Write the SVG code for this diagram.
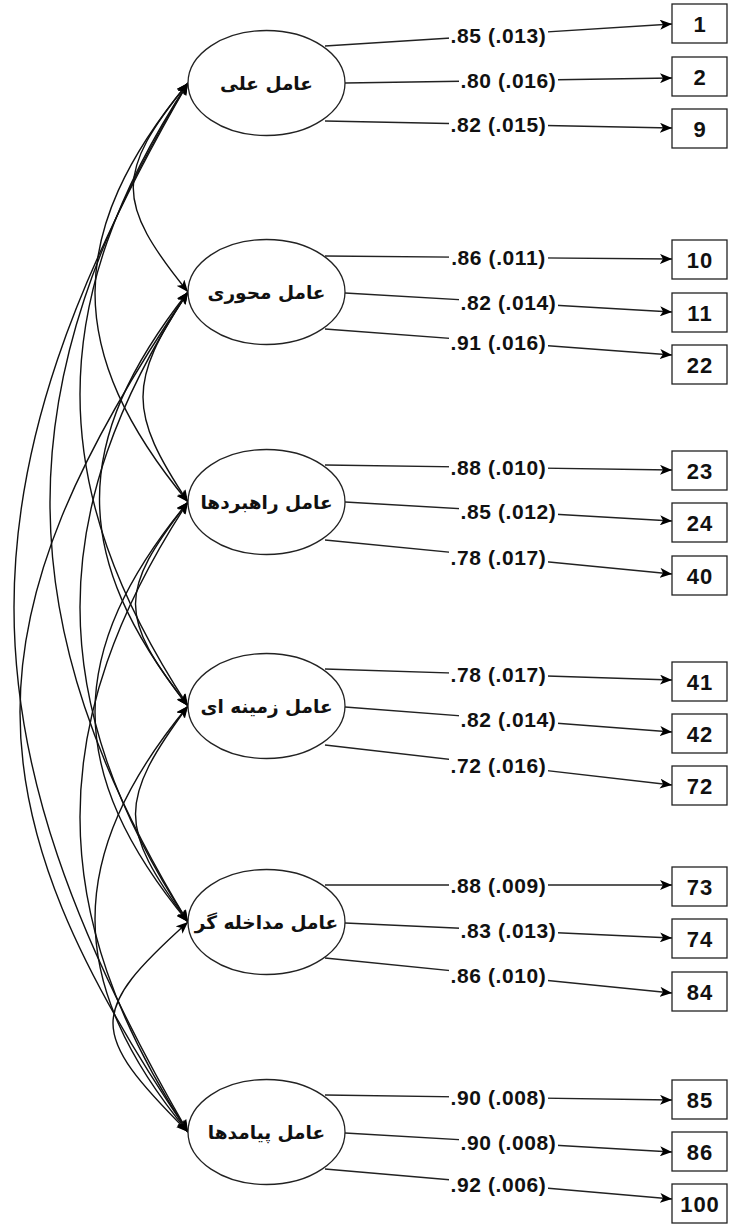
<svg xmlns="http://www.w3.org/2000/svg" width="730" height="1224" viewBox="0 0 730 1224">
  <defs>
    <marker id="head" viewBox="0 0 12 10" refX="12" refY="5" markerWidth="12" markerHeight="10" markerUnits="userSpaceOnUse" orient="auto-start-reverse">
      <path d="M0,0 L12,5 L0,10 L3,5 Z" fill="#000"/>
    </marker>
    <style>
      .cov { fill: none; stroke: #111; stroke-width: 1.4; marker-start: url(#head); marker-end: url(#head); }
      .load { fill: none; stroke: #222; stroke-width: 1.4; marker-end: url(#head); }
      .lblbg { fill: #fff; }
      .lbl { font-family: "Liberation Sans", Arial, sans-serif; font-weight: bold; font-size: 21px; letter-spacing: 0.6px; fill: #111; text-anchor: middle; }
      .node ellipse { fill: #fff; stroke: #222; stroke-width: 1.3; }
      .node text { font-family: "DejaVu Sans", "Noto Sans", sans-serif; font-weight: bold; font-size: 18.5px; fill: #111; text-anchor: middle; }
      .item rect { fill: #fff; stroke: #222; stroke-width: 1.3; }
      .item text { font-family: "Liberation Sans", Arial, sans-serif; font-weight: bold; font-size: 22px; letter-spacing: 1px; fill: #111; text-anchor: middle; }
    </style>
  </defs>

  <!-- connectors: factor covariances (left) and loadings (right) -->
  <g id="connectors">
    <path class="cov" d="M188,83 C115,173 115,202 188,292"/>
    <path class="cov" d="M188,292 C128,382 128,412 188,502"/>
    <path class="cov" d="M188,502 C118,592 118,616 188,706"/>
    <path class="cov" d="M188,706 C118,801 118,827 188,922"/>
    <path class="cov" d="M188,922 C88,1012 88,1032 188,1132"/>
    <path class="cov" d="M188,83 C64,233 64,352 188,502"/>
    <path class="cov" d="M188,292 C70,442 70,556 188,706"/>
    <path class="cov" d="M188,502 C64,652 64,772 188,922"/>
    <path class="cov" d="M188,706 C64,856 64,982 188,1132"/>
    <path class="cov" d="M188,83 C44,303 44,486 188,706"/>
    <path class="cov" d="M188,292 C44,512 44,702 188,922"/>
    <path class="cov" d="M188,502 C44,722 44,912 188,1132"/>
    <path class="cov" d="M188,83 C4,383 4,622 188,922"/>
    <path class="cov" d="M188,292 C-36,622 -36,802 188,1132"/>
    <path class="cov" d="M188,83 C-44,483 -44,732 188,1132"/>

    <line class="load" x1="325" y1="46" x2="672" y2="24"/>
    <line class="load" x1="345" y1="83" x2="672" y2="78"/>
    <line class="load" x1="325" y1="121" x2="672" y2="128"/>

    <line class="load" x1="325" y1="256" x2="672" y2="259"/>
    <line class="load" x1="345" y1="293" x2="672" y2="312"/>
    <line class="load" x1="325" y1="329" x2="672" y2="355"/>

    <line class="load" x1="325" y1="465" x2="672" y2="470"/>
    <line class="load" x1="345" y1="502" x2="672" y2="521"/>
    <line class="load" x1="325" y1="540" x2="672" y2="574"/>

    <line class="load" x1="325" y1="669" x2="672" y2="680"/>
    <line class="load" x1="345" y1="707" x2="672" y2="732"/>
    <line class="load" x1="325" y1="745" x2="672" y2="785"/>

    <line class="load" x1="325" y1="885" x2="672" y2="885"/>
    <line class="load" x1="345" y1="923" x2="672" y2="938"/>
    <line class="load" x1="325" y1="958" x2="672" y2="993"/>

    <line class="load" x1="325" y1="1095" x2="672" y2="1100"/>
    <line class="load" x1="345" y1="1133" x2="672" y2="1152"/>
    <line class="load" x1="325" y1="1169" x2="672" y2="1199"/>

    <!-- loading labels on white backing -->
    <g id="loading-labels">
      <rect class="lblbg" x="449" y="24" width="99" height="22"/><text class="lbl" x="498.5" y="42.5">.85 (.013)</text>
      <rect class="lblbg" x="459" y="69.5" width="99" height="22"/><text class="lbl" x="508.5" y="88">.80 (.016)</text>
      <rect class="lblbg" x="449" y="113.5" width="99" height="22"/><text class="lbl" x="498.5" y="132">.82 (.015)</text>

      <rect class="lblbg" x="449" y="246.5" width="99" height="22"/><text class="lbl" x="498.5" y="265">.86 (.011)</text>
      <rect class="lblbg" x="459" y="291.5" width="99" height="22"/><text class="lbl" x="508.5" y="310">.82 (.014)</text>
      <rect class="lblbg" x="449" y="331" width="99" height="22"/><text class="lbl" x="498.5" y="349.5">.91 (.016)</text>

      <rect class="lblbg" x="449" y="456.5" width="99" height="22"/><text class="lbl" x="498.5" y="475">.88 (.010)</text>
      <rect class="lblbg" x="459" y="500.5" width="99" height="22"/><text class="lbl" x="508.5" y="519">.85 (.012)</text>
      <rect class="lblbg" x="449" y="546" width="99" height="22"/><text class="lbl" x="498.5" y="564.5">.78 (.017)</text>

      <rect class="lblbg" x="449" y="663.5" width="99" height="22"/><text class="lbl" x="498.5" y="682">.78 (.017)</text>
      <rect class="lblbg" x="459" y="708.5" width="99" height="22"/><text class="lbl" x="508.5" y="727">.82 (.014)</text>
      <rect class="lblbg" x="449" y="754" width="99" height="22"/><text class="lbl" x="498.5" y="772.5">.72 (.016)</text>

      <rect class="lblbg" x="449" y="874" width="99" height="22"/><text class="lbl" x="498.5" y="892.5">.88 (.009)</text>
      <rect class="lblbg" x="459" y="919.5" width="99" height="22"/><text class="lbl" x="508.5" y="938">.83 (.013)</text>
      <rect class="lblbg" x="449" y="964.5" width="99" height="22"/><text class="lbl" x="498.5" y="983">.86 (.010)</text>

      <rect class="lblbg" x="449" y="1086.5" width="99" height="22"/><text class="lbl" x="498.5" y="1105">.90 (.008)</text>
      <rect class="lblbg" x="459" y="1131.5" width="99" height="22"/><text class="lbl" x="508.5" y="1150">.90 (.008)</text>
      <rect class="lblbg" x="449" y="1173" width="99" height="22"/><text class="lbl" x="498.5" y="1191.5">.92 (.006)</text>
    </g>
  </g>

  <!-- latent factors -->
  <g id="f1" class="node"><ellipse cx="266.5" cy="83" rx="78.5" ry="52.5"/><text x="266.5" y="90">عامل علی</text></g>
  <g id="f2" class="node"><ellipse cx="266.5" cy="292" rx="78.5" ry="52.5"/><text x="266.5" y="299">عامل محوری</text></g>
  <g id="f3" class="node"><ellipse cx="266.5" cy="502" rx="78.5" ry="52.5"/><text x="266.5" y="509">عامل راهبردها</text></g>
  <g id="f4" class="node"><ellipse cx="266.5" cy="706" rx="78.5" ry="52.5"/><text x="266.5" y="713">عامل زمینه ای</text></g>
  <g id="f5" class="node"><ellipse cx="266.5" cy="922" rx="78.5" ry="52.5"/><text x="266.5" y="929">عامل مداخله گر</text></g>
  <g id="f6" class="node"><ellipse cx="266.5" cy="1132" rx="78.5" ry="52.5"/><text x="266.5" y="1139">عامل پیامدها</text></g>

  <!-- observed items -->
  <g id="i1" class="item"><rect x="672" y="4" width="55" height="39"/><text x="700" y="31.5">1</text></g>
  <g id="i2" class="item"><rect x="672" y="57" width="55" height="39"/><text x="700" y="84.5">2</text></g>
  <g id="i9" class="item"><rect x="672" y="109" width="55" height="39"/><text x="700" y="136.5">9</text></g>

  <g id="i10" class="item"><rect x="672" y="240" width="55" height="39"/><text x="700" y="267.5">10</text></g>
  <g id="i11" class="item"><rect x="672" y="293" width="55" height="39"/><text x="700" y="320.5">11</text></g>
  <g id="i22" class="item"><rect x="672" y="345" width="55" height="39"/><text x="700" y="372.5">22</text></g>

  <g id="i23" class="item"><rect x="672" y="451" width="55" height="39"/><text x="700" y="478.5">23</text></g>
  <g id="i24" class="item"><rect x="672" y="503" width="55" height="39"/><text x="700" y="530.5">24</text></g>
  <g id="i40" class="item"><rect x="672" y="556" width="55" height="39"/><text x="700" y="583.5">40</text></g>

  <g id="i41" class="item"><rect x="672" y="662" width="55" height="39"/><text x="700" y="689.5">41</text></g>
  <g id="i42" class="item"><rect x="672" y="714" width="55" height="39"/><text x="700" y="741.5">42</text></g>
  <g id="i72" class="item"><rect x="672" y="766" width="55" height="39"/><text x="700" y="793.5">72</text></g>

  <g id="i73" class="item"><rect x="672" y="867" width="55" height="39"/><text x="700" y="894.5">73</text></g>
  <g id="i74" class="item"><rect x="672" y="919" width="55" height="39"/><text x="700" y="946.5">74</text></g>
  <g id="i84" class="item"><rect x="672" y="972" width="55" height="39"/><text x="700" y="999.5">84</text></g>

  <g id="i85" class="item"><rect x="672" y="1080" width="55" height="39"/><text x="700" y="1107.5">85</text></g>
  <g id="i86" class="item"><rect x="672" y="1132" width="55" height="39"/><text x="700" y="1159.5">86</text></g>
  <g id="i100" class="item"><rect x="672" y="1184" width="55" height="39"/><text x="700" y="1211.5">100</text></g>
</svg>
